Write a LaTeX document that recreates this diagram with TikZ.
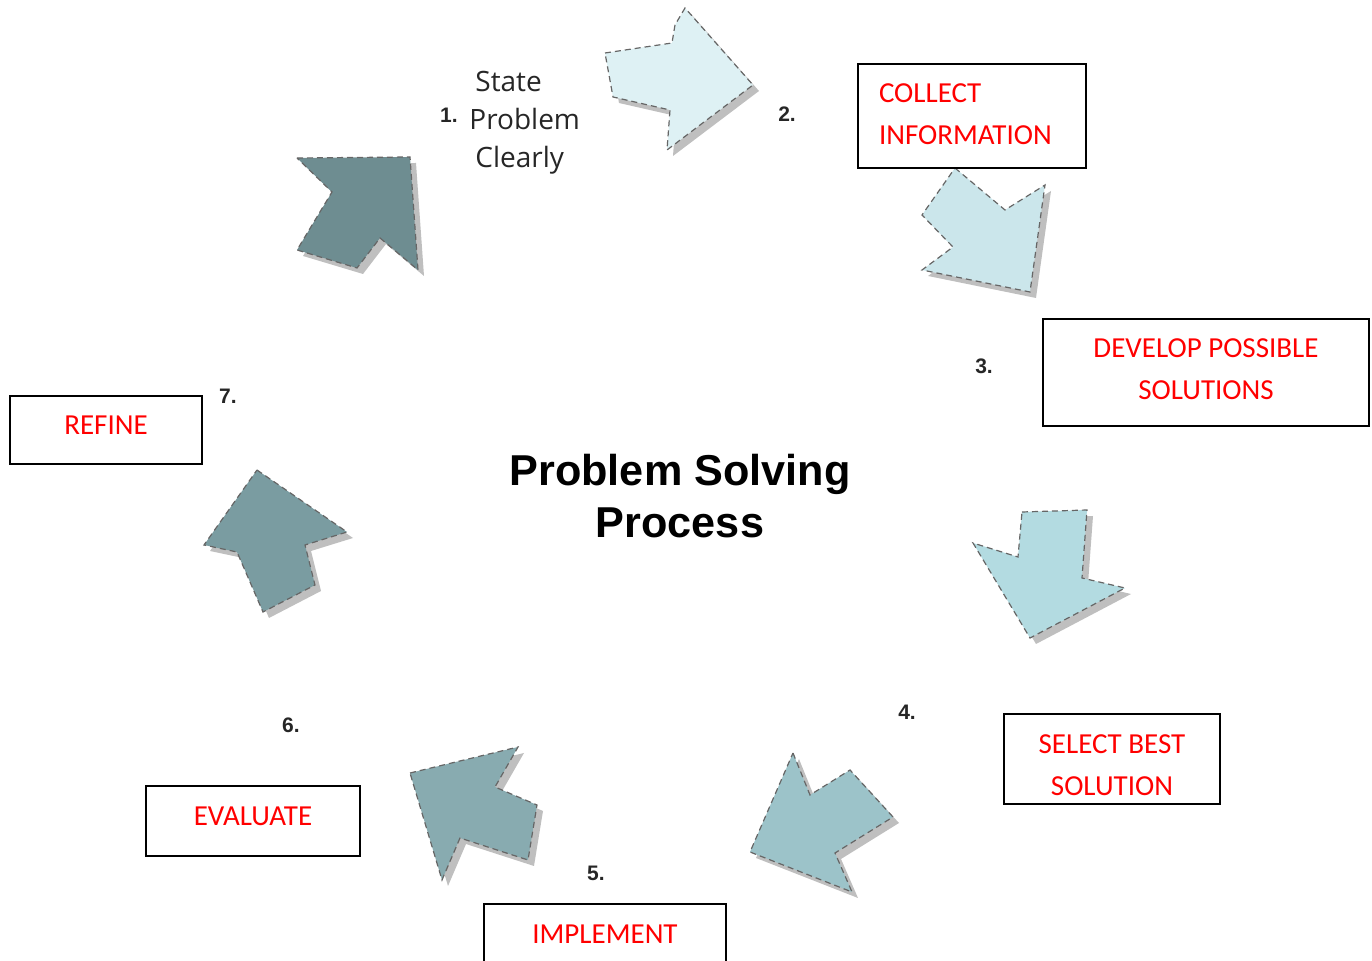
\documentclass[tikz,border=0pt]{standalone}
\usepackage{fontspec}
\setmainfont{Carlito}
\newfontfamily\numfont{Liberation Sans}
\newfontfamily\stepfont{Open Sans}
\usetikzlibrary{positioning}

\definecolor{arrowA}{HTML}{DEF1F4}
\definecolor{arrowB}{HTML}{CBE6EB}
\definecolor{arrowC}{HTML}{B3DBE1}
\definecolor{arrowD}{HTML}{9CC3C9}
\definecolor{arrowE}{HTML}{88ABB0}
\definecolor{arrowF}{HTML}{7A9CA1}
\definecolor{arrowG}{HTML}{6E8D91}

% shadowed block arrow, #2 is the outline as a -- path
\newcommand{\cyclearrow}[2]{%
  \fill[black!25, xshift=3pt, yshift=-3pt] #2 -- cycle;
  \filldraw[fill=#1, draw=black!60, densely dashed, line width=0.6pt] #2 -- cycle;}

\begin{document}
\begin{tikzpicture}[x=0.5pt, y=-0.5pt,
    stepbox/.style={draw, line width=0.9pt, text=red, font=\fontsize{14.5}{21}\selectfont, align=center, inner sep=0pt},
    onebox/.style={stepbox, text depth=4.5pt},
    num/.style={font=\numfont\bfseries\fontsize{10.5}{12}\selectfont, text=black!85}]
  \useasboundingbox (0,0) rectangle (1372,961);

  \cyclearrow{arrowA}{(605,53) -- (672,43) -- (675,25) -- (685,8) -- (753,85) -- (667,150) -- (670,110) -- (613,97)}
  \cyclearrow{arrowB}{(955,168) -- (1005,210) -- (1045,185) -- (1030,292) -- (922,270) -- (953,247) -- (922,215)}
  \cyclearrow{arrowC}{(1022,512) -- (1087,510) -- (1082,578) -- (1125,588) -- (1030,638) -- (973,543) -- (1018,557)}
  \cyclearrow{arrowD}{(793,753) -- (810,795) -- (850,770) -- (893,817) -- (835,853) -- (852,892) -- (750,852)}
  \cyclearrow{arrowE}{(410,773) -- (518,747) -- (495,787) -- (537,805) -- (528,860) -- (460,838) -- (442,880)}
  \cyclearrow{arrowF}{(257,470) -- (347,532) -- (305,545) -- (315,585) -- (263,612) -- (237,552) -- (204,545)}
  \cyclearrow{arrowG}{(297,158) -- (410,157) -- (418,270) -- (380,238) -- (357,268) -- (297,250) -- (332,192)}

  \node (title) at (680,496) [font=\numfont\bfseries\fontsize{21.6}{26}\selectfont, align=center] {Problem Solving\\Process};

  \node (n1) at (449,115) [num] {1.};
  \node (state) at (469,123) [anchor=west, inner sep=0pt, font=\stepfont\fontsize{14}{19}\selectfont, align=left, text=black!85] {\hspace{3pt}State\\Problem\\\hspace{3pt}Clearly};
  \node (n2) at (787,114) [num] {2.};
  \node (n3) at (984,366) [num] {3.};
  \node (n4) at (907,712) [num] {4.};
  \node (n5) at (596,873) [num] {5.};
  \node (n6) at (291,725) [num] {6.};
  \node (n7) at (228,396) [num] {7.};

  \node (collect) at (972,116) [stepbox, minimum width=114pt, minimum height=52pt, text width=93pt, align=left] {COLLECT\\INFORMATION\rule[-2pt]{0pt}{2pt}};
  \node (develop) at (1206,372.5) [stepbox, minimum width=163pt, minimum height=53.5pt] {DEVELOP POSSIBLE\\SOLUTIONS\rule[-3pt]{0pt}{3pt}};
  \node (select) at (1112,759) [stepbox, minimum width=108pt, minimum height=45pt] {\rule{0pt}{15.3pt}SELECT BEST\\SOLUTION};
  \node (implement) at (605,939) [onebox, minimum width=121pt, minimum height=35pt] {IMPLEMENT};
  \node (evaluate) at (253,821) [onebox, minimum width=107pt, minimum height=35pt] {EVALUATE};
  \node (refine) at (106,430) [onebox, minimum width=96pt, minimum height=34pt] {REFINE};
\end{tikzpicture}
\end{document}
